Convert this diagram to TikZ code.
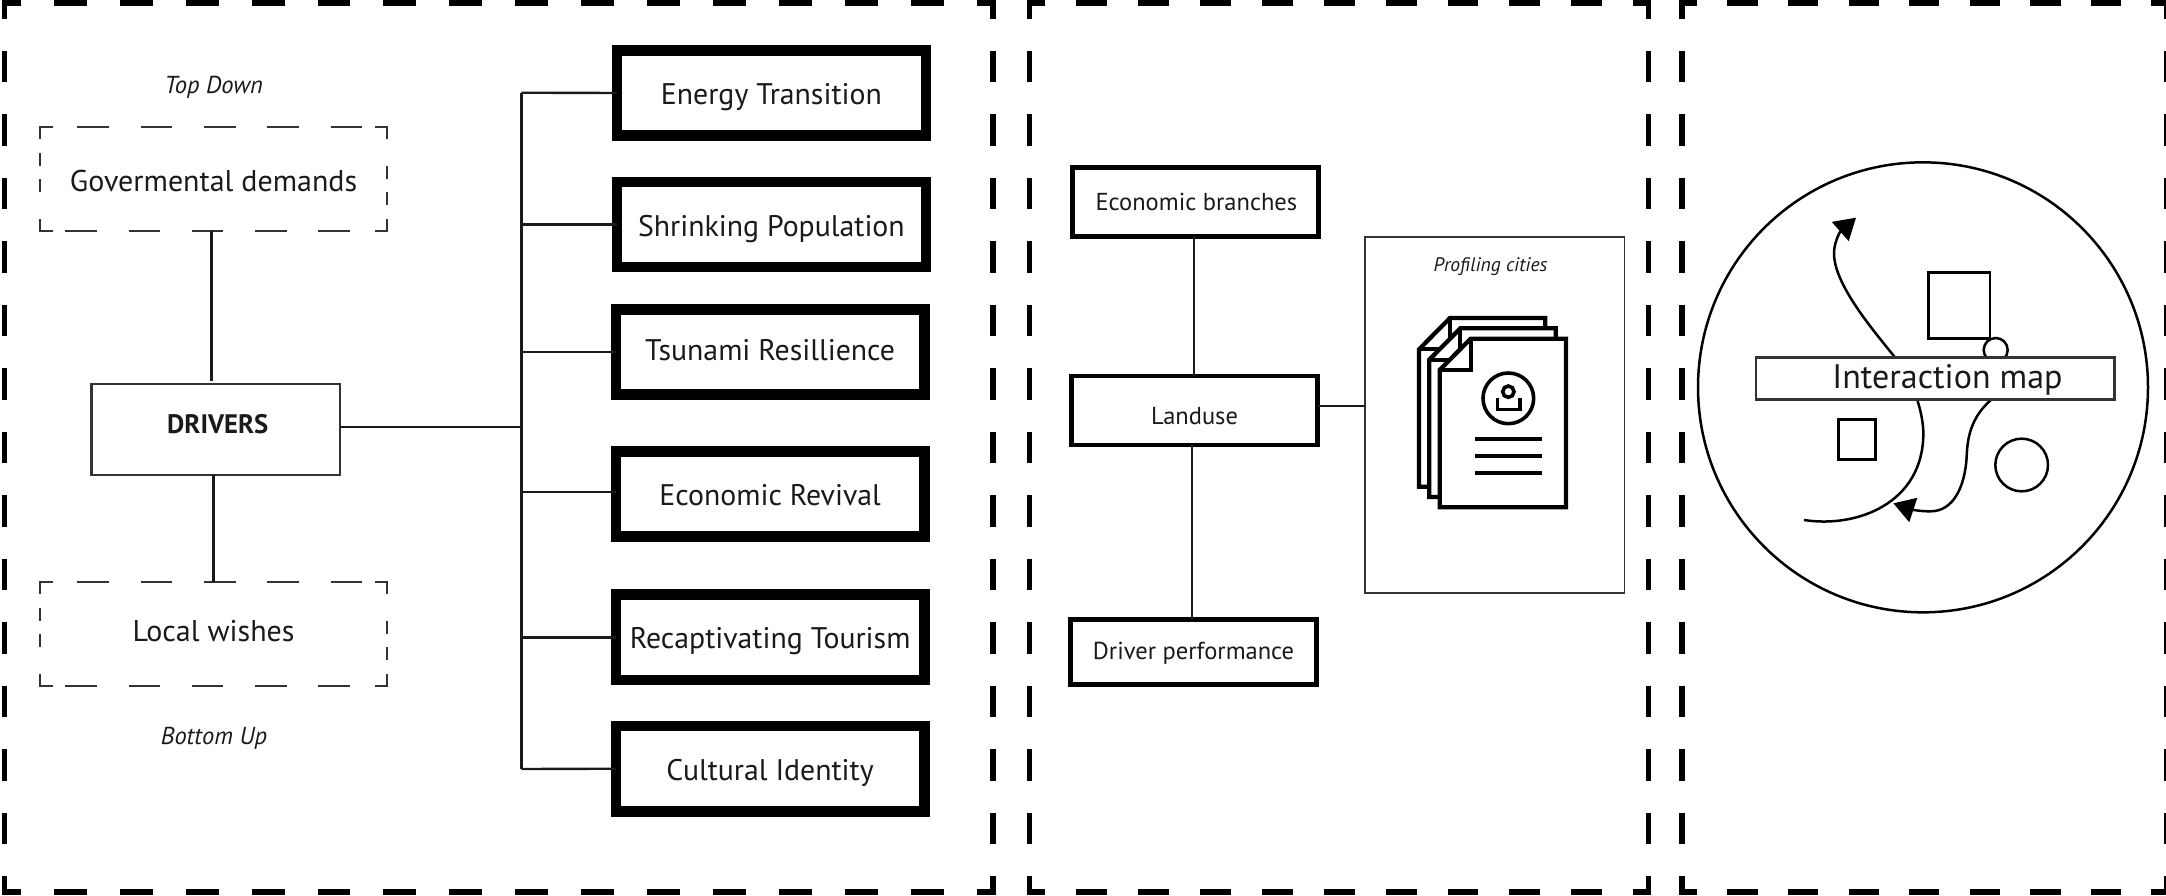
\documentclass[tikz,border=0pt]{standalone}
\usepackage{fontspec}
\setmainfont{PT Sans}
\usetikzlibrary{arrows.meta}
\definecolor{ink}{HTML}{1A1A1A}
\definecolor{edge}{HTML}{333333}
\tikzset{
  x=1pt,y=-1pt,
  conn/.style={line width=2.4pt,draw=ink},
  heavybox/.style={draw=black,line width=10.5pt,fill=white,minimum width=308.7pt,minimum height=85.4pt,inner sep=0pt,outer sep=0pt,font=\fontsize{29.8}{32}\selectfont,text=ink},
  midbox/.style={draw=black,line width=4.7pt,fill=white,minimum width=246pt,minimum height=68.8pt,inner sep=0pt,outer sep=0pt,font=\fontsize{24.5}{27}\selectfont,text=ink},
  thinbox/.style={draw=edge,line width=2.4pt,fill=white,inner sep=0pt,outer sep=0pt,text=ink},
  softtext/.style={inner sep=0pt,outer sep=0pt,minimum width=346.7pt,minimum height=104pt,text=ink,font=\fontsize{30}{33}\selectfont},
  freetext/.style={inner sep=0pt,outer sep=0pt,text=ink,anchor=base},
  framedash/.style={line width=5.5pt,draw=black},
  softdash/.style={line width=2.2pt,draw=edge},
  pagesheet/.style={draw=black,line width=4.3pt,fill=white,miter limit=10},
  glyph/.style={draw=black,line width=3.6pt},
  curveline/.style={line width=2.5pt,draw=black},
  bl/.style={text height=#1,text depth=0pt}
}
% outer dashed frame: x1 y1 x2 y2 horizontal-period vertical-period
\newcommand{\outerframe}[6]{%
  \pgfmathsetmacro{\hd}{#5/2}\pgfmathsetmacro{\vd}{#6/2}\pgfmathsetmacro{\hq}{#5/4}\pgfmathsetmacro{\vq}{#6/4}%
  \draw[framedash,dash pattern=on \hd pt off \hd pt,dash phase=\hq pt] (#1,#2)--(#3,#2);
  \draw[framedash,dash pattern=on \hd pt off \hd pt,dash phase=\hq pt] (#1,#4)--(#3,#4);
  \draw[framedash,dash pattern=on \vd pt off \vd pt,dash phase=\vq pt] (#1,#2)--(#1,#4);
  \draw[framedash,dash pattern=on \vd pt off \vd pt,dash phase=\vq pt] (#3,#2)--(#3,#4);
  \foreach \cx/\cy in {#1/#2,#3/#2,#1/#4,#3/#4}{\fill[black] (\cx-2.75,\cy-2.75) rectangle (\cx+2.75,\cy+2.75);}
}
% thin dashed rectangle with the reference's dash positions: top y
\newcommand{\softrect}[1]{%
  \draw[softdash] (52.5,#1)--(40.3,#1)--(40.3,#1+12);
  \draw[softdash] (375,#1)--(387,#1)--(387,#1+12);
  \draw[softdash] (40.3,#1+92)--(40.3,#1+104)--(52.5,#1+104);
  \draw[softdash] (387,#1+92)--(387,#1+104)--(375,#1+104);
  \foreach \a in {77.4,140.8,204,267.4,330.8}{\draw[softdash] (\a,#1)--(\a+31.6,#1);}
  \foreach \a in {65.2,128.5,191.8,255.1,318.4}{\draw[softdash] (\a,#1+104)--(\a+31.6,#1+104);}
  \foreach \a in {26,52}{\draw[softdash] (40.3,#1+\a)--(40.3,#1+\a+13);}
  \foreach \a in {39,65}{\draw[softdash] (387,#1+\a)--(387,#1+\a+13);}
}
% one sheet of the stacked document icon; #1 = offset towards the top left
\newcommand{\sheet}[1]{%
  \draw[pagesheet] (272-#1,356-#1)--(558-#1,356-#1)--(558-#1,862-#1)--(179-#1,862-#1)--(179-#1,450-#1)--cycle;
  \draw[pagesheet,fill=none] (272-#1,356-#1)--(272-#1,450-#1)--(179-#1,450-#1);
}
\begin{document}
\begin{tikzpicture}
\clip (0,0) rectangle (2166,895);
\fill[white] (0,0) rectangle (2166,895);

\outerframe{4.5}{3}{993}{892}{65.9}{63.5}
\outerframe{1029.7}{3}{1648.7}{892}{61.9}{63.5}
\outerframe{1682}{3}{2166.5}{892}{60.56}{63.5}

% left column
\node[freetext,font=\itshape\fontsize{24.5}{27}\selectfont] (topdown) at (213.7,93.3) {Top Down};
\softrect{127.3}
\softrect{581.8}
\node[softtext,bl=23.4pt] (gov) at (213.6,179.3) {Govermental demands};
\node[softtext,bl=15.6pt] (local) at (213.6,633.8) {Local wishes};
\node[freetext,font=\itshape\fontsize{24.5}{27}\selectfont] (bottomup) at (214,744) {Bottom Up};
\node[thinbox,minimum width=248.3pt,minimum height=91pt,font=\bfseries\fontsize{26.7}{29}\selectfont,bl=8pt] (drivers) at (215.8,429.6) {\hspace*{4pt}DRIVERS};

\coordinate (govfoot) at (211.4,230.7);
\coordinate (driverstop) at (211.4,380.5);
\coordinate (driversfoot) at (213.3,475);
\coordinate (localtop) at (213.3,581.8);
\draw[conn] (govfoot) -- (driverstop);
\draw[conn] (driversfoot) -- (localtop);

% branch boxes
\coordinate (trunktop) at (521.4,92.7);
\coordinate (trunkbot) at (521.4,769);
\node[heavybox,bl=22pt] (energy) at (771.4,93) {Energy Transition};
\node[heavybox,bl=24pt] (shrink) at (771.4,224.5) {Shrinking Population};
\node[heavybox,bl=16pt] (tsunami) at (770.1,352) {Tsunami Resillience};
\node[heavybox,bl=23pt] (revival) at (770.1,494) {Economic Revival};
\node[heavybox,bl=22pt] (tourism) at (770.1,637.3) {Recaptivating Tourism};
\node[heavybox,bl=24pt] (culture) at (770.1,768.7) {Cultural Identity};

\draw[conn] (trunktop) -- (trunkbot);
\draw[conn] ([yshift=2.6pt]drivers.east) -- ([yshift=2.6pt]drivers.east -| trunktop);
\draw[conn] (trunktop) -- (energy.west);
\draw[conn] (shrink.west -| trunktop) -- (shrink.west);
\draw[conn] (tsunami.west -| trunktop) -- (tsunami.west);
\draw[conn] ([yshift=2pt]revival.west -| trunktop) -- ([yshift=2pt]revival.west);
\draw[conn] (tourism.west -| trunktop) -- (tourism.west);
\draw[conn] (trunkbot) -- (culture.west);
% redraw thick frames' left edge over connector ends is not needed: the ends stop at the stroke centre

% middle column
\node[midbox,bl=17pt] (econ) at (1195.4,202.2) {\hspace*{2pt}Economic branches};
\node[midbox,bl=28pt] (land) at (1194.5,410.5) {Landuse};
\node[midbox,minimum height=65.5pt,bl=14pt] (perf) at (1193.5,652) {Driver performance};
\coordinate (econfoot) at (1193.7,236);
\coordinate (landtop) at (1193.7,376);
\coordinate (landfoot) at (1192,445);
\coordinate (perftop) at (1192,619);
\draw[conn] (econfoot) -- (landtop);
\draw[conn] (landfoot) -- (perftop);
\node[draw=edge,line width=1.6pt,inner sep=0pt,outer sep=0pt,minimum width=259.3pt,minimum height=356pt] (profile) at (1494.7,415.2) {};
\draw[conn] ([yshift=4.5pt]land.east) -- ([yshift=4.5pt]land.east -| profile.west);
\node[freetext,font=\itshape\fontsize{19.6}{22}\selectfont] (proftext) at (1490.5,271.7) {Profiling cities};

% document icon
\begin{scope}[shift={(1380,220)},x=0.33333pt,y=-0.33333pt]
\sheet{62}\sheet{31}\sheet{0}
\draw[glyph] (385,535) circle[radius=76];
\draw[glyph] (385,515) circle[radius=17];
\draw[glyph] (352,535)--(352,568)--(420,568)--(420,535);
\foreach \ly in {658,708,758}{\draw[line width=4pt,draw=black] (285,\ly)--(487,\ly);}
\end{scope}

% interaction map
\begin{scope}[shift={(1680,150)},x=0.33333pt,y=-0.33333pt]
\draw[curveline] (729,712) circle[radius=675];
\draw[curveline] (745,367) rectangle (930,566);
\draw[curveline] (947,600) circle[radius=36];
\draw[curveline] (475,808) rectangle (587,928);
\draw[curveline] (1025,945) circle[radius=79];
\draw[curveline,-{Triangle[length=21pt,width=25pt]}] (372,1110)
  .. controls (530,1135) and (730,1060) .. (730,850)
  .. controls (730,790) and (700,690) .. (645,622)
  .. controls (570,530) and (462,400) .. (462,310)
  .. controls (462,280) and (478,247) .. (528,203);
\draw[curveline,-{Triangle[length=21pt,width=25pt]}] (945,740)
  .. controls (880,790) and (862,850) .. (860,920)
  .. controls (855,1010) and (820,1085) .. (750,1084)
  .. controls (725,1084) and (700,1080) .. (640,1060);
\node[thinbox,minimum width=358.6pt,minimum height=42pt,font=\fontsize{34}{37}\selectfont,bl=20pt] (map) at (765,685) {\hspace*{25pt}Interaction map};
\end{scope}
\end{tikzpicture}
\end{document}
